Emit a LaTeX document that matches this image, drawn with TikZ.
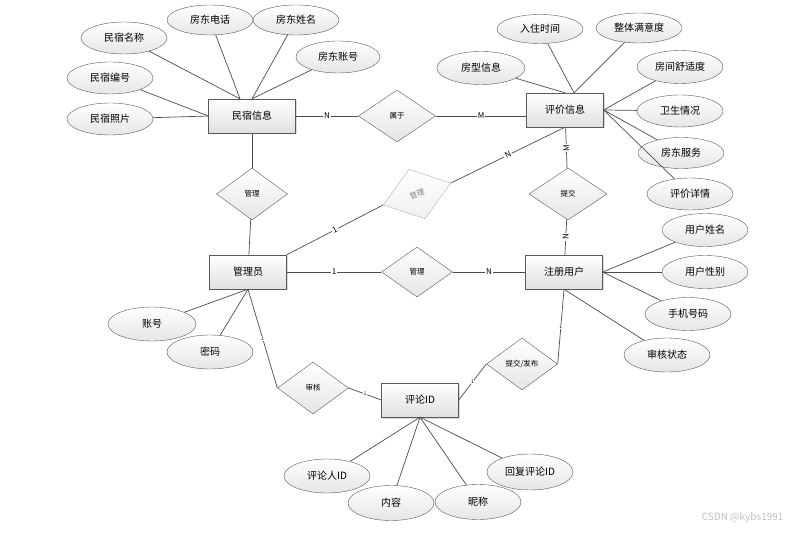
\documentclass[tikz,border=0pt]{standalone}
\usepackage{fontspec}
\setmainfont{Noto Sans CJK SC}
\usetikzlibrary{shapes.geometric,shadows}
\tikzset{
	entity/.style={% entity boxes
		draw=black!65, rectangle,
		top color=white, bottom color=black!12,
		minimum width=77pt,
		minimum height=34pt,
		font=\fontsize{10}{12}\selectfont,
		drop shadow={shadow xshift=1.5pt,shadow yshift=-1.5pt,opacity=0.3}
	},
	attr/.style={% attributes
		draw=black!65, shape=ellipse,
		top color=white, bottom color=black!10,
		minimum width=86pt,
		minimum height=32pt,
		inner sep=0pt,
		font=\fontsize{10}{12}\selectfont
	},
	rel/.style={% relationships
		draw=black!65, shape=diamond,
		top color=white, bottom color=black!10,
		minimum width=71pt,
		minimum height=52pt,
		inner sep=0pt,
		font=\fontsize{7.5}{9}\selectfont
	},
	link/.style={draw=black!70, line width=0.7pt},
	card/.style={fill=white, inner sep=1pt, font=\fontsize{8}{9}\selectfont},
	tick/.style={fill=white, inner sep=0.4pt, font=\fontsize{5}{5}\selectfont}
}
\begin{document}
\begin{tikzpicture}[x=1pt,y=-1pt]
                        \useasboundingbox (0,0) rectangle (805,534);
                        % entities
                        \node [entity, minimum width=87pt] (e0) at (252,116) {民宿信息};
                        \node [entity] (e1) at (565,110) {评价信息};
                        \node [entity] (e2) at (248,272) {管理员};
                        \node [entity] (e3) at (564,272) {注册用户};
                        \node [entity] (e4) at (420,400) {评论ID};
                        % relationships
                        \node [rel, minimum width=77pt] (r0) at (397,116) {属于};
                        \node [rel] (r1) at (252,194) {管理};
                        \node [rel, rotate=18, draw=black!30, top color=white, bottom color=black!6, text=black!50] (r2) at (417,194) {管理};
                        \node [rel, minimum width=78pt] (r3) at (568,194) {提交};
                        \node [rel, minimum height=50pt] (r4) at (417,272) {管理};
                        \node [rel] (r5) at (313,388) {审核};
                        \node [rel] (r6) at (522,364) {提交/发布};
                        % attributes
                        \node [attr] (a0) at (124,38) {民宿名称};
                        \node [attr, minimum height=30pt] (a1) at (210,20) {房东电话};
                        \node [attr, minimum height=30pt] (a2) at (296,20) {房东姓名};
                        \node [attr, minimum width=84pt] (a3) at (338,57) {房东账号};
                        \node [attr] (a4) at (110,78) {民宿编号};
                        \node [attr] (a5) at (110,119) {民宿照片};
                        \node [attr, minimum height=29pt] (b0) at (540,29) {入住时间};
                        \node [attr, minimum height=30pt] (b1) at (639,28) {整体满意度};
                        \node [attr, minimum width=88pt, minimum height=33pt] (b2) at (481,68) {房型信息};
                        \node [attr, minimum height=33pt] (b3) at (680,67) {房间舒适度};
                        \node [attr] (b4) at (680,111) {卫生情况};
                        \node [attr, minimum height=31pt] (b5) at (681,153) {房东服务};
                        \node [attr] (b6) at (690,194) {评价详情};
                        \node [attr, minimum height=33pt] (c0) at (705,230) {用户姓名};
                        \node [attr, minimum height=33pt] (c1) at (705,272) {用户性别};
                        \node [attr, minimum height=33pt] (c2) at (688,314) {手机号码};
                        \node [attr, minimum height=34pt] (c3) at (667,355) {审核状态};
                        \node [attr, minimum width=88pt, minimum height=34pt] (d0) at (152,324) {账号};
                        \node [attr, minimum height=34pt] (d1) at (210,352) {密码};
                        \node [attr, minimum height=34pt] (f0) at (327,476) {评论人ID};
                        \node [attr, minimum height=35pt] (f1) at (391,503) {内容};
                        \node [attr, minimum height=35pt] (f2) at (478,502) {昵称};
                        \node [attr, minimum height=36pt] (f3) at (530,472) {回复评论ID};
                        \node [text=black!25, font=\fontsize{10}{12}\selectfont, anchor=east] (wm) at (787,518) {CSDN @kybs1991};
                        % relationship links
                        \draw [link] (e0) edge node[card] {N} (r0);
                        \draw [link] (r0.east) edge node[card] {M} (e1.west |- r0.east);
                        \draw [link] (e0) edge (r1);
                        \draw [link] (r1) edge (e2);
                        \draw [link] (e2.north east) edge node[card, sloped] {1} (r2.west);
                        \draw [link] (r2.east) edge node[card, sloped] {N} (e1.south);
                        \draw [link] (e1) edge node[card, rotate=90] {M} (r3);
                        \draw [link] (r3) edge node[card, rotate=90] {N} (e3);
                        \draw [link] (e2) edge node[card] {1} (r4);
                        \draw [link] (r4) edge node[card] {N} (e3);
                        \draw [link] (e2.south) edge node[tick] {1} (r5.west);
                        \draw [link] (r5.east) edge node[tick] {1} (e4.west);
                        \draw [link] (e4.east) edge node[tick] {1} (r6.west);
                        \draw [link] (r6.east) edge node[tick] {1} (e3.south);
                        % attribute links
                        \draw [link] ([xshift=-12pt]e0.north) edge (a0);
                        \draw [link] ([xshift=-12pt]e0.north) edge (a1);
                        \draw [link] (e0.north) edge (a2);
                        \draw [link] (e0.north) edge (a3);
                        \draw [link] (e0.west) edge (a4);
                        \draw [link] (e0.west) edge (a5);
                        \draw [link] ([xshift=9pt]e1.north) edge (b0);
                        \draw [link] ([xshift=9pt]e1.north) edge (b1);
                        \draw [link] (e1.north) edge (b2);
                        \draw [link] (e1.east) edge (b3);
                        \draw [link] (e1.east) edge (b4);
                        \draw [link] (e1.east) edge (b5);
                        \draw [link] (e1.east) edge (b6);
                        \draw [link] (e3.east) edge (c0);
                        \draw [link] (e3.east) edge (c1);
                        \draw [link] (e3.east) edge (c2);
                        \draw [link] (e3.south) edge (c3);
                        \draw [link] (e2.south) edge (d0);
                        \draw [link] (e2.south) edge (d1);
                        \draw [link] (e4.south) edge (f0);
                        \draw [link] (e4.south) edge (f1);
                        \draw [link] (e4.south) edge (f2);
                        \draw [link] (e4.south) edge (f3);
\end{tikzpicture}
\end{document}
